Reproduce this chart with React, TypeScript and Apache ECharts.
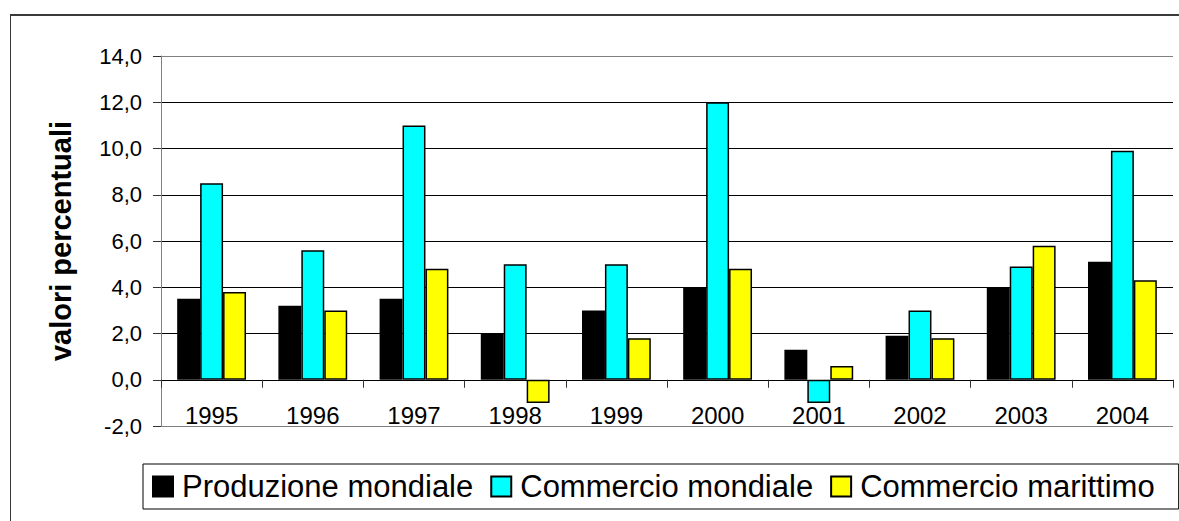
import React, { useEffect, useRef } from "react";
import * as echarts from "echarts";

const years = ["1995", "1996", "1997", "1998", "1999", "2000", "2001", "2002", "2003", "2004"];
const produzioneMondiale = [3.5, 3.2, 3.5, 2.0, 3.0, 4.0, 1.3, 1.9, 4.0, 5.1];
const commercioMondiale = [8.5, 5.6, 11.0, 5.0, 5.0, 12.0, -1.0, 3.0, 4.9, 9.9];
const commercioMarittimo = [3.8, 3.0, 4.8, -1.0, 1.8, 4.8, 0.6, 1.8, 5.8, 4.3];
const seriesNames = ["Produzione mondiale", "Commercio mondiale", "Commercio marittimo"];
const seriesColors = ["#000000", "#00FFFF", "#FFFF00"];
const yMin = -2;
const yMax = 14;
const yStep = 2;
const yAxisName = "valori percentuali";

const FONT = "'Liberation Sans', Arial, sans-serif";

export default function App() {
  const ref = useRef<HTMLDivElement>(null);

  useEffect(() => {
    if (!ref.current) return;
    const chart = echarts.init(ref.current, undefined, { renderer: "svg" });
    const dataSets = [produzioneMondiale, commercioMondiale, commercioMarittimo];
    chart.setOption({
      animation: false,
      textStyle: { fontFamily: FONT },
      grid: { left: 150, right: 6, top: 41, bottom: 95, containLabel: false },
      legend: {
        data: seriesNames,
        left: 132,
        top: 449,
        orient: "horizontal",
        itemWidth: 20,
        itemHeight: 20,
        itemGap: 17,
        padding: [7, 24, 7, 9],
        borderColor: "#000",
        borderWidth: 1,
        icon: "rect",
        textStyle: { fontSize: 31, color: "#000", fontFamily: FONT, padding: [0, 0, 0, 4] },
      },
      xAxis: {
        type: "category",
        data: years,
        axisLine: { onZero: true, lineStyle: { color: "#000", width: 1 } },
        axisTick: { show: true, length: 8, lineStyle: { color: "#333" } },
        axisLabel: { fontSize: 24, color: "#000", margin: -23, fontFamily: FONT },
        splitLine: { show: false },
      },
      yAxis: {
        type: "value",
        min: yMin,
        max: yMax,
        interval: yStep,
        name: yAxisName,
        nameLocation: "middle",
        nameGap: 86,
        nameTextStyle: { fontSize: 29, fontWeight: "bold", color: "#000", fontFamily: FONT },
        axisLine: { show: true, lineStyle: { color: "#808080", width: 1 } },
        axisTick: { show: true, length: 8, lineStyle: { color: "#333" } },
        axisLabel: {
          fontSize: 22,
          color: "#000",
          margin: 19,
          fontFamily: FONT,
          formatter: (v: number) => v.toFixed(1).replace(".", ","),
        },
        splitLine: {
          show: true,
          lineStyle: {
            color: ["#808080", "#000", "#000", "#000", "#000", "#000", "#000", "#000", "#808080"],
            width: 1,
          },
        },
      },
      series: dataSets.map((d, i) => ({
        name: seriesNames[i],
        type: "bar",
        data: d,
        barGap: "0%",
        barCategoryGap: "32%",
        itemStyle: { color: seriesColors[i], borderColor: "#000", borderWidth: 1.5 },
      })),
    });
    return () => chart.dispose();
  }, []);

  return (
    <div
      style={{
        position: "fixed",
        left: 0,
        top: 0,
        width: 1179,
        height: 521,
        background: "#fff",
        overflow: "hidden",
      }}
    >
      <div
        style={{
          position: "absolute",
          left: 10,
          top: 14,
          width: 1200,
          height: 600,
          borderTop: "2px solid #3a3a3a",
          borderLeft: "1.5px solid #3a3a3a",
        }}
      />
      <div
        ref={ref}
        style={{ position: "absolute", left: 11, top: 15, width: 1168, height: 506 }}
      />
    </div>
  );
}
